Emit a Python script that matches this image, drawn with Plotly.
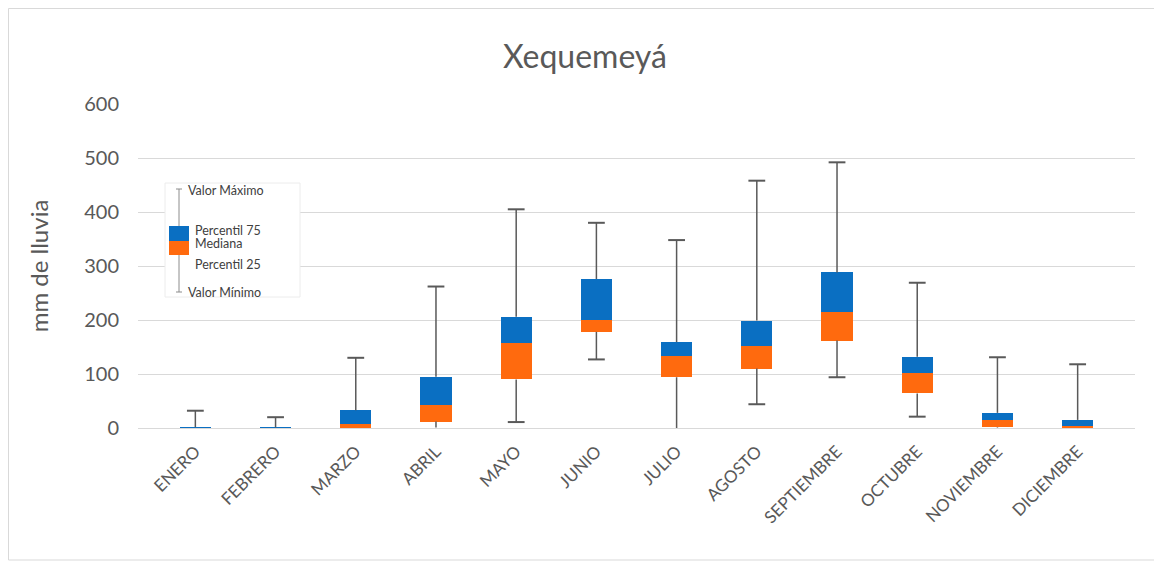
import plotly.graph_objects as go

# datos (mm de lluvia)
meses = ["ENERO", "FEBRERO", "MARZO", "ABRIL", "MAYO", "JUNIO", "JULIO",
         "AGOSTO", "SEPTIEMBRE", "OCTUBRE", "NOVIEMBRE", "DICIEMBRE"]
valor_max = [32, 20, 130, 262, 405, 380, 348, 458, 492, 269, 131, 118]
percentil_75 = [1.5, 1, 33, 95, 206, 276, 159, 199, 288, 132, 28, 15]
mediana = [0.5, 0.3, 8, 43, 157, 200, 134, 152, 215, 101, 15, 4]
percentil_25 = [0, 0, 0, 12, 90, 178, 94, 110, 162, 64, 1, 0]
valor_min = [0, 0, 0, 1, 11, 127, 0, 44, 94, 21, 0, 0]

AZUL = "#0A6FC2"
NARANJA = "#FF6A0E"
GRIS = "#595959"
FONT = "Lato"

OFF = 8  # page body margin
W, H = 1162 - OFF, 563 - OFF
# plot area in screenshot pixels (used only to place the legend picture)
L, R, T, B = 138, 1135, 104, 428
def px(x): return (x - L) / (R - L)
def py(y): return (B - y) / (B - T)

fig = go.Figure()

# invisible base up to percentil 25
fig.add_trace(go.Bar(x=meses, y=percentil_25, marker=dict(color="rgba(0,0,0,0)", line=dict(width=0)),
                     hoverinfo="skip", showlegend=False))
fig.add_trace(go.Bar(x=meses, y=[m - p for m, p in zip(mediana, percentil_25)],
                     marker=dict(color=NARANJA, line=dict(width=0)), showlegend=False))
fig.add_trace(go.Bar(x=meses, y=[q - m for q, m in zip(percentil_75, mediana)],
                     marker=dict(color=AZUL, line=dict(width=0)), showlegend=False))

# whiskers
wx, wy = [], []
for i, mes in enumerate(meses):
    wx += [mes, mes, None, mes, mes, None]
    wy += [percentil_75[i], valor_max[i], None, percentil_25[i], valor_min[i], None]
fig.add_trace(go.Scatter(x=wx, y=wy, mode="lines", line=dict(color=GRIS, width=1.5),
                         hoverinfo="skip", showlegend=False))

# caps
cap_x = list(meses) + [m for m, lo in zip(meses, valor_min) if lo > 2]
cap_y = valor_max + [lo for lo in valor_min if lo > 2]
fig.add_trace(go.Scatter(x=cap_x, y=cap_y, mode="markers",
                         marker=dict(symbol="line-ew", size=12, line=dict(color=GRIS, width=2)),
                         hoverinfo="skip", showlegend=False))

shapes = [
    # chart border
    dict(type="rect", xref="paper", yref="paper", x0=px(8.5), x1=px(1159), y0=py(560), y1=py(8.5),
         line=dict(color="#d9d9d9", width=1), layer="below"),
    # legend picture
    dict(type="rect", xref="paper", yref="paper", x0=px(165), x1=px(300), y0=py(297), y1=py(183),
         line=dict(color="#ececec", width=1), fillcolor="white"),
    dict(type="line", xref="paper", yref="paper", x0=px(179), x1=px(179), y0=py(292), y1=py(189),
         line=dict(color="#8c8c8c", width=1)),
    dict(type="line", xref="paper", yref="paper", x0=px(176), x1=px(182), y0=py(189), y1=py(189),
         line=dict(color="#8c8c8c", width=1)),
    dict(type="line", xref="paper", yref="paper", x0=px(176), x1=px(182), y0=py(292), y1=py(292),
         line=dict(color="#8c8c8c", width=1)),
    dict(type="rect", xref="paper", yref="paper", x0=px(169), x1=px(189), y0=py(241), y1=py(226),
         line=dict(width=0), fillcolor=AZUL),
    dict(type="rect", xref="paper", yref="paper", x0=px(169), x1=px(189), y0=py(255), y1=py(241),
         line=dict(width=0), fillcolor=NARANJA),
]

leyenda = [("Valor Máximo", 186, 190), ("Percentil 75", 193, 230), ("Mediana", 193, 243),
           ("Percentil 25", 193, 264), ("Valor Mínimo", 186, 292)]
annotations = [dict(text=t, xref="paper", yref="paper", x=px(x), y=py(y), xanchor="left",
                    yanchor="middle", showarrow=False, font=dict(size=12.5, color="#404040", family=FONT))
               for t, x, y in leyenda]

fig.update_layout(
    width=W, height=H,
    margin=dict(l=L - OFF, r=1162 - R, t=T - OFF, b=563 - B),
    paper_bgcolor="white", plot_bgcolor="white",
    barmode="stack", bargap=0.61,
    font=dict(family=FONT, color=GRIS),
    title=dict(text="Xequemeyá", x=0.5, xref="container", y=1 - (57 - OFF) / H, yanchor="middle",
               font=dict(size=32, color=GRIS, family=FONT)),
    shapes=shapes, annotations=annotations,
)
fig.update_yaxes(range=[0, 600], dtick=100, gridcolor="#d9d9d9", zeroline=False,
                 showline=False, tickfont=dict(size=20, color=GRIS), ticks="", ticklen=0,
                 ticklabelstandoff=18,
                 title=dict(text="mm de lluvia", font=dict(size=24, color=GRIS), standoff=28))
fig.update_xaxes(showline=True, linecolor="#d9d9d9", linewidth=1, tickangle=-45,
                 tickfont=dict(size=17, color=GRIS), showgrid=False, ticks="",
                 ticklabelstandoff=6)

fig.write_html("out.html")
